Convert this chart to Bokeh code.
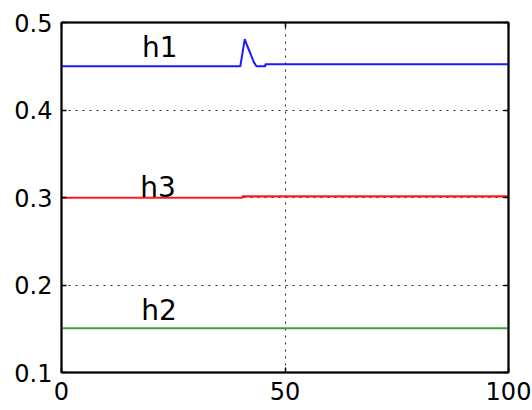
from bokeh.plotting import figure
from bokeh.models import FixedTicker, LinearAxis, Range1d, ColumnDataSource
from bokeh.core.properties import value
from bokeh.embed import file_html
from bokeh.resources import INLINE

# Tick positions
x_ticks = [0, 50, 100]
y_ticks = [0.1, 0.2, 0.3, 0.4, 0.5]

# h1 trace: flat with a short transient near t = 41
h1_x = [0, 40.0, 41.0, 41.5, 42.3, 43.0, 43.6, 45.6, 45.6, 100]
h1_y = [0.450, 0.450, 0.481, 0.474, 0.464, 0.455, 0.450, 0.450, 0.4523, 0.4523]

# h3 trace: small step near t = 40.5
h3_x = [0, 40.5, 40.5, 100]
h3_y = [0.2997, 0.2997, 0.3012, 0.3012]

# h2 trace: constant
h2_x = [0, 100]
h2_y = [0.1506, 0.1506]

# Curve labels
labels = ["h1", "h3", "h2"]
label_x = [22.0, 21.6, 21.8]
label_y = [0.471, 0.3114, 0.171]

p = figure(width=532, height=410,
           x_range=Range1d(0, 100), y_range=Range1d(0.1, 0.5),
           output_backend="svg", toolbar_location=None,
           min_border_left=61, min_border_right=24,
           min_border_top=22, min_border_bottom=38)

p.background_fill_color = "white"
p.border_fill_color = "white"
p.outline_line_color = "black"
p.outline_line_width = 2

FONT = "DejaVu Sans"

for ax, ticks in ((p.xaxis[0], x_ticks), (p.yaxis[0], y_ticks)):
    ax.ticker = FixedTicker(ticks=ticks, minor_ticks=[])
    ax.major_tick_in = 5
    ax.major_tick_out = 0
    ax.major_tick_line_color = "black"
    ax.major_tick_line_width = 1.5
    ax.minor_tick_line_color = None
    ax.axis_line_color = "black"
    ax.axis_line_width = 1.5
    ax.major_label_text_font = FONT
    ax.major_label_text_font_size = "24px"
    ax.major_label_text_color = "black"

p.xaxis.major_label_standoff = 9
p.yaxis.major_label_standoff = 9

# Mirror ticks on the top and right edges of the box (no labels there)
top = LinearAxis(ticker=FixedTicker(ticks=x_ticks, minor_ticks=[]))
right = LinearAxis(ticker=FixedTicker(ticks=y_ticks, minor_ticks=[]))
for ax in (top, right):
    ax.major_tick_in = 5
    ax.major_tick_out = 0
    ax.major_tick_line_color = "black"
    ax.major_tick_line_width = 1.5
    ax.minor_tick_line_color = None
    ax.axis_line_color = "black"
    ax.axis_line_width = 1.5
    ax.major_label_text_color = None
    ax.major_label_text_font_size = "1px"
    ax.major_label_standoff = 0
p.add_layout(top, "above")
p.add_layout(right, "right")

p.xgrid.ticker = FixedTicker(ticks=x_ticks)
p.ygrid.ticker = FixedTicker(ticks=y_ticks)
for g in (p.xgrid[0], p.ygrid[0]):
    g.grid_line_color = "#222222"
    g.grid_line_dash = "2 5"
    g.grid_line_width = 1

p.line(h1_x, h1_y, line_color="#1a1aff", line_width=2)
p.line(h3_x, h3_y, line_color="#ff1a1a", line_width=2.2)
p.line(h2_x, h2_y, line_color="#3f9f3f", line_width=2)

src = ColumnDataSource(dict(x=label_x, y=label_y, t=labels))
p.text(x="x", y="y", text="t", source=src,
       text_font=value(FONT), text_font_size="28px",
       text_align="center", text_baseline="alphabetic",
       text_color="black")

open("out.html", "w").write(file_html(p, INLINE))
